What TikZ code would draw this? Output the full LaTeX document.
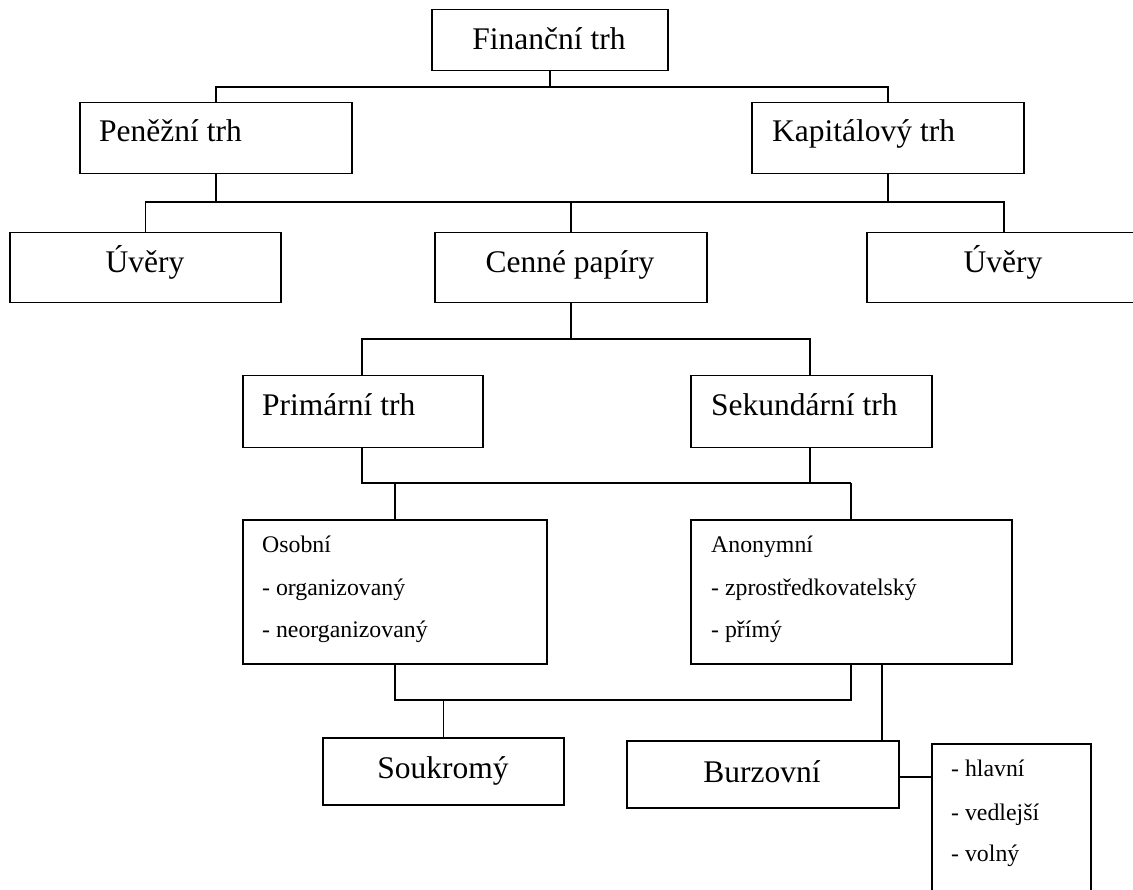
\documentclass[tikz,border=0pt]{standalone}
\usepackage{fontspec}
\setmainfont{Liberation Serif}
\tikzset{
  box/.style={draw, line width=1.5pt, inner sep=0pt, anchor=north west},
  conn/.style={draw, line width=1.5pt},
  big/.style={font=\fontsize{31.5}{36}\selectfont, inner sep=0pt, anchor=base},
  bigl/.style={font=\fontsize{31.5}{36}\selectfont, inner sep=0pt, anchor=base west},
  small/.style={font=\fontsize{23.8}{28}\selectfont, inner sep=0pt, anchor=base west}
}
\newcommand{\mybox}[5]{\node[box, minimum width=#4pt-#2pt, minimum height=#5pt-#3pt] (#1) at (#2,#3) {};}
\begin{document}
\begin{tikzpicture}[x=1pt,y=-1pt]
\useasboundingbox (0,0) rectangle (1133,890);
\clip (0,0) rectangle (1133,890);
\fill[white] (0,0) rectangle (1133,890);
% boxes
\mybox{fin}{431}{9}{667}{70}
\mybox{pen}{79}{102}{351}{173}
\mybox{kap}{751}{102}{1023}{173}
\mybox{uvA}{9}{232}{280}{302}
\mybox{cen}{434}{232}{706}{302}
\mybox{uvB}{866}{232}{1140}{302}
\mybox{pri}{242}{375}{482}{447}
\mybox{sek}{690}{375}{931}{447}
\mybox{osb}{242}{519}{546}{663}
\mybox{ano}{690}{519}{1011}{663}
\mybox{sou}{322}{737}{563}{804}
\mybox{bur}{626}{740}{898}{807}
\mybox{lst}{931}{743}{1090}{905}
% texts
\node[big] (tfin) at (549,50) {Finanční trh};
\node[bigl] (tpen) at (99,142) {Peněžní trh};
\node[bigl] (tkap) at (772,142) {Kapitálový trh};
\node[big] (tuvA) at (145,273) {Úvěry};
\node[big] (tcen) at (570,273) {Cenné papíry};
\node[big] (tuvB) at (1003,273) {Úvěry};
\node[bigl] (tpri) at (262,416) {Primární trh};
\node[bigl] (tsek) at (711,416) {Sekundární trh};
\node[small] (to1) at (262,552) {Osobní};
\node[small] (to2) at (262,595) {- organizovaný};
\node[small] (to3) at (262,637) {- neorganizovaný};
\node[small] (ta1) at (711,552) {Anonymní};
\node[small] (ta2) at (711,595) {- zprostředkovatelský};
\node[small] (ta3) at (711,637) {- přímý};
\node[big] (tsou) at (443,778) {Soukromý};
\node[big] (tbur) at (762,782) {Burzovní};
\node[small] (tl1) at (951,776) {- hlavní};
\node[small] (tl2) at (951,820) {- vedlejší};
\node[small] (tl3) at (951,861) {- volný};
% helper coordinates
\coordinate (h1) at (0,87);
\coordinate (h2) at (0,202);
\coordinate (h3) at (0,339);
\coordinate (h4) at (0,483);
\coordinate (h5) at (0,700);
\coordinate (h6) at (0,777);
\coordinate (xp) at (362,0);
\coordinate (xs) at (810,0);
\coordinate (xo) at (395,0);
\coordinate (xa) at (851,0);
\coordinate (xb) at (882,0);
% connectors
\draw[conn] (fin.south) -- (fin.south |- h1);
\draw[conn] (pen.north) -- (pen.north |- h1) -- (kap.north |- h1) -- (kap.north);
\draw[conn] (pen.south) -- (pen.south |- h2);
\draw[conn] (kap.south) -- (kap.south |- h2);
\draw[conn] (uvA.north) -- (uvA.north |- h2) -- (uvB.north |- h2) -- (uvB.north);
\draw[conn] (cen.north) -- (cen.north |- h2);
\draw[conn] (cen.south) -- (cen.south |- h3);
\draw[conn] (pri.north -| xp) -- (xp |- h3) -- (xs |- h3) -- (sek.north -| xs);
\draw[conn] (pri.south -| xp) -- (xp |- h4) -- (xa |- h4);
\draw[conn] (sek.south -| xs) -- (xs |- h4);
\draw[conn] (osb.north -| xo) -- (xo |- h4);
\draw[conn] (ano.north -| xa) -- (xa |- h4);
\draw[conn] (osb.south -| xo) -- (xo |- h5) -- (xa |- h5) -- (ano.south -| xa);
\draw[conn] (sou.north) -- (sou.north |- h5);
\draw[conn] (ano.south -| xb) -- (bur.north -| xb);
\draw[conn] (bur.east |- h6) -- (lst.west |- h6);
\end{tikzpicture}
\end{document}
